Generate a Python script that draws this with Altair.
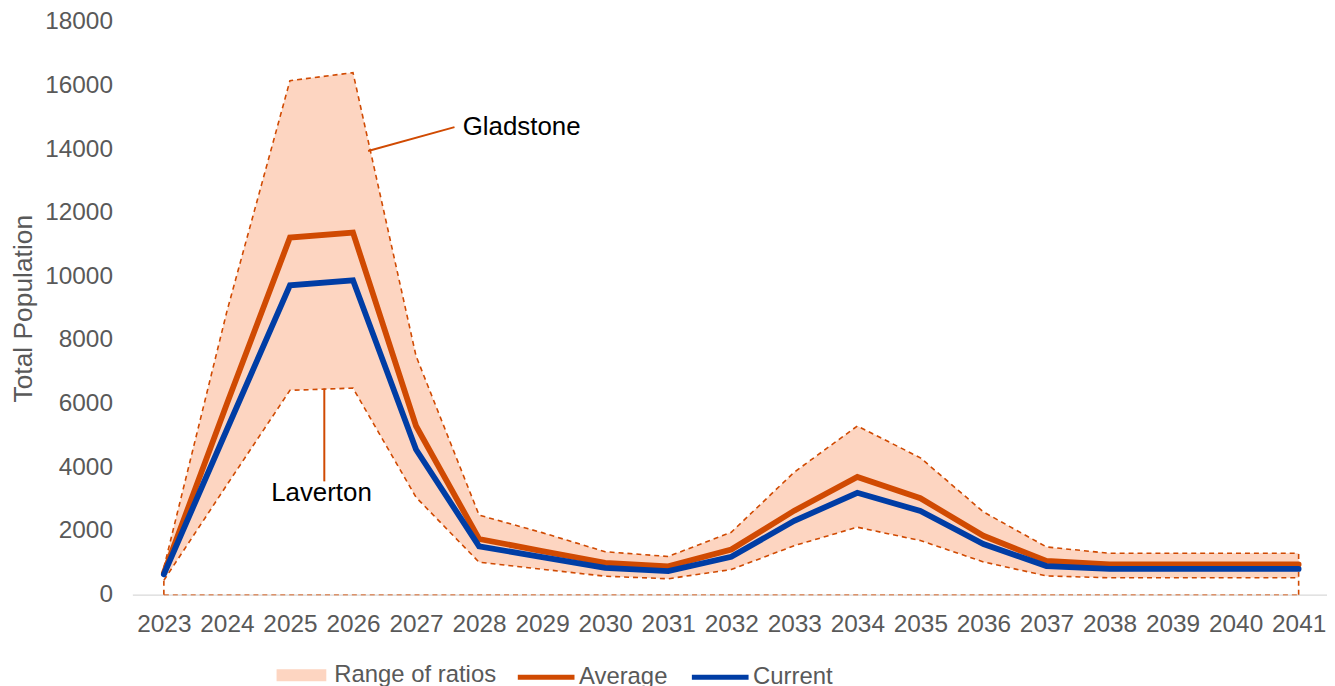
import altair as alt
import pandas as pd

years = list(range(2023, 2042))
upper = [850, 8900, 16150, 16400, 7500, 2500, 1950, 1350, 1200, 1960, 3850, 5300, 4300, 2600, 1500, 1300, 1300, 1300, 1300]
lower = [450, 3450, 6420, 6490, 3060, 1020, 800, 580, 500, 790, 1540, 2120, 1700, 1030, 590, 530, 530, 530, 530]
average = [680, 6000, 11220, 11375, 5300, 1750, 1370, 1000, 890, 1420, 2640, 3700, 3030, 1850, 1060, 950, 950, 950, 950]
current = [640, 5190, 9720, 9875, 4560, 1520, 1180, 840, 740, 1190, 2320, 3200, 2630, 1590, 900, 810, 810, 810, 810]

y_ticks = list(range(0, 18001, 2000))

ann_text = ["Gladstone", "Laverton"]
ann_year = [2027.74, 2025.5]
ann_value = [14690, 3190]
ann_align = ["left", "center"]
lead_year = [2026.24, 2025.545]
lead_value = [13940, 6480]
lead_year2 = [2027.61, 2025.545]
lead_value2 = [14690, 3560]

ORANGE = "#D04A02"
BLUE = "#003DA5"
PEACH = "#FDD5C1"
GREY = "#595959"
FONT = "Liberation Sans"
FS_TICK = 24.5
FS_LEG = 24
FS_ANN = 26
FS_TITLE = 26.5

band_df = pd.DataFrame({"year": years, "lower": lower, "upper": upper,
                        "band": ["Range of ratios"] * len(years), "zero": [0] * len(years)})
edge_df = pd.DataFrame({
    "year": years * 2,
    "value": upper + lower,
    "edge": ["Gladstone"] * len(years) + ["Laverton"] * len(years),
})
lines_df = pd.DataFrame({
    "year": years * 2,
    "value": average + current,
    "series": ["Average"] * len(years) + ["Current"] * len(years),
})
ends_df = band_df.iloc[[0, len(years) - 1]]
ann_df = pd.DataFrame({"text": ann_text, "year": ann_year, "value": ann_value, "align": ann_align})
lead_df = pd.DataFrame({"year": lead_year, "value": lead_value, "year2": lead_year2, "value2": lead_value2})

xscale = alt.Scale(domain=[2022.5, 2041.45], nice=False, zero=False)
yscale = alt.Scale(domain=[0, 18000], nice=False)

xaxis = alt.Axis(values=years, format="d", title=None, ticks=False, grid=False,
                 domain=True, domainColor="#D9D9D9", domainWidth=1.3,
                 labelFont=FONT, labelFontSize=FS_TICK, labelColor=GREY, labelPadding=18,
                 labelFlush=False, labelOverlap=False)
yaxis = alt.Axis(values=y_ticks, format="d", title="Total Population", ticks=False, grid=False, domain=False,
                 labelFont=FONT, labelFontSize=FS_TICK, labelColor=GREY, labelPadding=20,
                 titleFont=FONT, titleFontSize=FS_TITLE, titleColor=GREY, titleFontWeight="normal",
                 titleX=-109, titleY=288, titleAngle=-90, titleAlign="center", titleBaseline="middle")

X = alt.X("year:Q", scale=xscale, axis=xaxis)

area = alt.Chart(band_df).mark_area(opacity=1).encode(
    x=X,
    y=alt.Y("lower:Q", scale=yscale, axis=yaxis),
    y2="upper:Q",
    fill=alt.Fill("band:N", scale=alt.Scale(domain=["Range of ratios"], range=[PEACH]),
                  legend=alt.Legend(title=None, orient="none", legendX=145, legendY=632,
                                    direction="horizontal",
                                    symbolType="M-1,-0.24L1,-0.24L1,0.24L-1,0.24Z",
                                    symbolSize=2500, symbolStrokeWidth=0, symbolOpacity=1,
                                    labelFont=FONT, labelFontSize=FS_LEG, labelColor=GREY,
                                    labelOffset=8, labelLimit=400)),
)

edges = alt.Chart(edge_df).mark_line(strokeDash=[5, 4], strokeWidth=1.6, color=ORANGE).encode(
    x=alt.X("year:Q", scale=xscale),
    y=alt.Y("value:Q", scale=yscale),
    detail="edge:N",
)

base_dash = alt.Chart(band_df).mark_line(strokeDash=[5, 4], strokeWidth=1.6, color=ORANGE, opacity=0.55).encode(
    x=alt.X("year:Q", scale=xscale),
    y=alt.Y("zero:Q", scale=yscale),
)

end_rules = alt.Chart(ends_df).mark_rule(strokeDash=[5, 4], strokeWidth=1.6, color=ORANGE).encode(
    x=alt.X("year:Q", scale=xscale),
    y=alt.Y("zero:Q", scale=yscale),
    y2="upper:Q",
)

lines = alt.Chart(lines_df).mark_line(strokeWidth=5.8, strokeJoin="miter", strokeCap="round").encode(
    x=alt.X("year:Q", scale=xscale),
    y=alt.Y("value:Q", scale=yscale),
    stroke=alt.Stroke("series:N",
                      scale=alt.Scale(domain=["Average", "Current"], range=[ORANGE, BLUE]),
                      sort=["Average", "Current"],
                      legend=alt.Legend(title=None, orient="none", legendX=385, legendY=628,
                                        direction="horizontal", symbolType="stroke",
                                        symbolSize=3249, symbolStrokeWidth=5,
                                        labelFont=FONT, labelFontSize=FS_LEG, labelColor=GREY,
                                        labelOffset=2, columnPadding=14, labelLimit=400)),
)

leaders = alt.Chart(lead_df).mark_rule(strokeWidth=2, color=ORANGE).encode(
    x=alt.X("year:Q", scale=xscale),
    y=alt.Y("value:Q", scale=yscale),
    x2="year2:Q",
    y2="value2:Q",
)

ann_left = alt.Chart(ann_df[ann_df["align"] == "left"]).mark_text(
    align="left", baseline="middle", font=FONT, fontSize=FS_ANN, color="#000000").encode(
    x=alt.X("year:Q", scale=xscale), y=alt.Y("value:Q", scale=yscale), text="text:N")
ann_center = alt.Chart(ann_df[ann_df["align"] == "center"]).mark_text(
    align="center", baseline="middle", font=FONT, fontSize=FS_ANN, color="#000000").encode(
    x=alt.X("year:Q", scale=xscale), y=alt.Y("value:Q", scale=yscale), text="text:N")

chart = alt.layer(area, base_dash, end_rules, edges, lines, leaders, ann_left, ann_center).properties(
    width=1201, height=576,
    padding={"left": 125, "top": 12, "right": 0, "bottom": 90},
    autosize=alt.AutoSizeParams(type="none"),
).resolve_scale(fill="independent", stroke="independent").configure(
    background="white", view=alt.ViewConfig(stroke=None))

chart.save("out.html", embed_options={"renderer": "svg", "actions": False})
